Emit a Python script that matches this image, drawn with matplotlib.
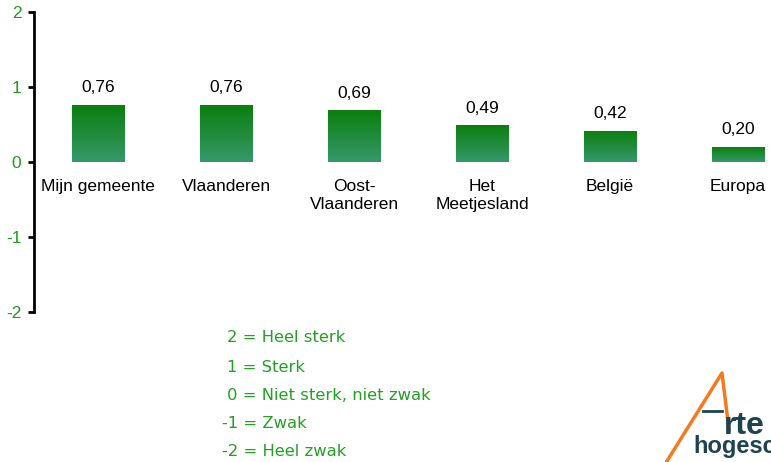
import numpy as np
import matplotlib
matplotlib.use("Agg")
import matplotlib.pyplot as plt
from matplotlib.lines import Line2D
from matplotlib.colors import LinearSegmentedColormap

# data
categories = ["Mijn gemeente", "Vlaanderen", "Oost-\nVlaanderen",
              "Het\nMeetjesland", "België", "Europa"]
scores = [0.76, 0.76, 0.69, 0.49, 0.42, 0.20]
yticks = [-2, -1, 0, 1, 2]
scale_labels = ["2 = Heel sterk", "1 = Sterk", "0 = Niet sterk, niet zwak",
                "-1 = Zwak", "-2 = Heel zwak"]

W, H = 771, 462
GREEN_TXT = "#1e9a1e"

plt.rcParams['font.family'] = ['Liberation Sans', 'DejaVu Sans']

fig = plt.figure(figsize=(W / 100, H / 100), dpi=100)
ax = fig.add_axes([34 / W, 150 / H, 768 / W, 300 / H])

x = np.arange(len(categories))
bars = ax.bar(x, scores, width=0.41, color="none", edgecolor="none")

# vertical gradient inside each bar
cmap = LinearSegmentedColormap.from_list("g", ["#35996a", "#0b7f0e"])
grad = np.linspace(0, 1, 100).reshape(-1, 1)
for b in bars:
    x0, y0 = b.get_x(), b.get_y()
    im = ax.imshow(grad, cmap=cmap, origin="lower", aspect="auto",
                   extent=[x0, x0 + b.get_width(), y0, y0 + b.get_height()],
                   zorder=2)
    im.set_clip_path(b)

# value labels
for xi, v in zip(x, scores):
    ax.annotate(f"{v:.2f}".replace(".", ","), (xi, v), xytext=(0, 7),
                textcoords="offset points", ha="center", va="bottom",
                fontsize=12.5)

# category labels just under the zero line
for xi, lab in zip(x, categories):
    ax.annotate(lab, (xi, 0), xytext=(0, -12), textcoords="offset points",
                ha="center", va="top", fontsize=12.5, linespacing=1.25)

ax.set_xlim(-0.5, 5.5)
ax.set_ylim(-2, 2)
ax.set_yticks(yticks)
ax.set_yticklabels([str(t) for t in yticks])
ax.set_xticks([])
for s in ["top", "right", "bottom"]:
    ax.spines[s].set_visible(False)
ax.spines["left"].set_linewidth(2)
ax.tick_params(axis="y", direction="out", length=4, width=2, pad=5,
               labelsize=12.5, labelcolor=GREEN_TXT)
ax.patch.set_alpha(0)

# scale legend
leg_x = [227, 227, 227, 222, 222]
leg_y = [338, 367, 396, 423, 452]
for lx, ly, t in zip(leg_x, leg_y, scale_labels):
    fig.text(lx / W, 1 - ly / H, t, ha="left", va="center", fontsize=11.8,
             color="#22a022", family="DejaVu Sans")

# logo (partially cut off at the right edge)
def px(xp, yp):
    return xp / W, 1 - yp / H

fig.add_artist(Line2D(*zip(px(667, 461), px(722, 373), px(729, 430)),
                      transform=fig.transFigure, color="#f47a20", lw=2.5))
fig.add_artist(Line2D(*zip(px(703, 411), px(722, 411)),
                      transform=fig.transFigure, color="#1d4352", lw=2))
fig.text(*px(724, 434), "rte", fontsize=23, fontweight="bold",
         color="#1d4352", ha="left", va="baseline")
fig.text(*px(693, 453), "hogesc", fontsize=17, fontweight="bold",
         color="#1d4352", ha="left", va="baseline")

fig.savefig("out.png", dpi=100)
